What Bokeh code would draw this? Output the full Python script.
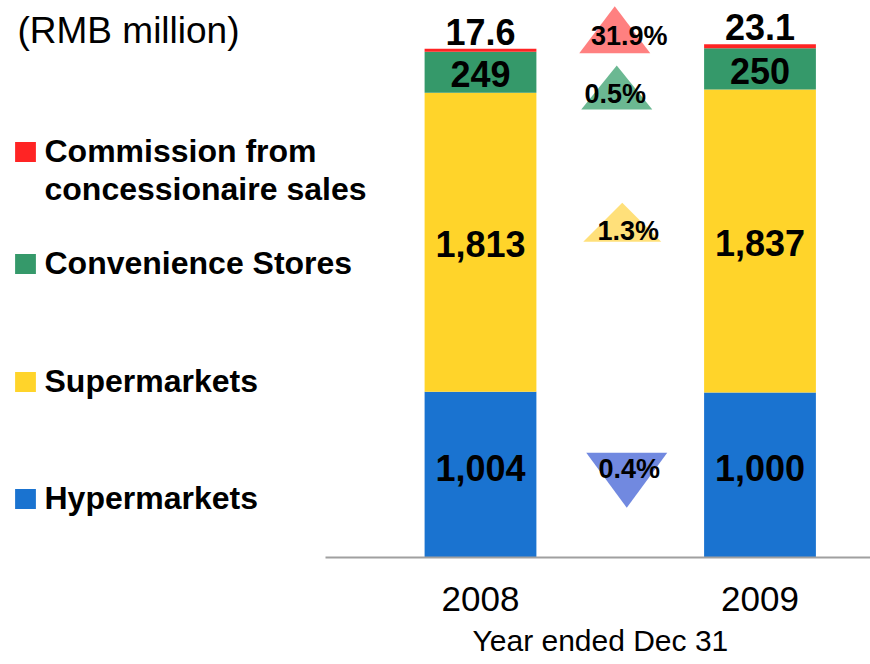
from bokeh.plotting import figure
from bokeh.models import Range1d, FixedTicker, Legend, LegendItem, Label, Title, ColumnDataSource
from bokeh.core.properties import value
from bokeh.embed import file_html
from bokeh.resources import INLINE

# ---------------- data ----------------
years = ["2008", "2009"]
hypermarkets = [1004, 1000]
supermarkets = [1813, 1837]
convenience = [249, 250]
commission = [17.6, 23.1]
segment_names = ["Hypermarkets", "Supermarkets", "Convenience Stores",
                 "Commission from\nconcessionaire sales"]
change_labels = ["0.4%", "1.3%", "0.5%", "31.9%"]
change_dirs = ["down", "up", "up", "up"]

# ---------------- style / layout ----------------
FONT = "Liberation Sans"
bar_colors = ["#1A73D0", "#FFD42A", "#35996A", "#FF2424"]
tri_colors = ["#7189E0", "#FFE07A", "#6BB892", "#FF8080"]
tri_w_px = [81, 78, 71, 71]
tri_h_px = [55, 39, 44, 47]
tri_dx_px = [6.5, 2, -3.5, -5.5]      # horizontal nudge from mid-gap
tri_dy_px = [5.5, -19.5, 17, -18.5]   # vertical nudge from segment middle (screen px, down +)
lab_dx_px = [2.5, 6, -1.5, 14.5]
lab_dy_px = [-11.5, 8.5, 7, 6.5]
legend_bottom_px = [517, 400, 282, 208]  # y (from top) of bottom edge of each legend box

W, H = 870, 664
FRAME_H = 557
PX_X = 279.5                         # pixels per year step
X_START = -480 / PX_X
X_END = X_START + W / PX_X
AXIS_LEFT = (325 - 480) / PX_X
Y_START, Y_END = 0, 3376
px_y = FRAME_H / (Y_END - Y_START)
BAR_W = 0.40

series = [hypermarkets, supermarkets, convenience, commission]
keys = ["hyper", "super", "conv", "comm"]
xs = list(range(len(years)))

src = ColumnDataSource(dict(x=xs, **{k: v for k, v in zip(keys, series)}))

p = figure(width=W, height=H, x_range=Range1d(X_START, X_END), y_range=Range1d(Y_START, Y_END),
           output_backend="svg", toolbar_location=None, min_border_left=0, min_border_right=0,
           min_border_top=0, min_border_bottom=H - FRAME_H, y_axis_location=None,
           outline_line_color=None)
p.xgrid.visible = False
p.ygrid.visible = False

renderers = p.vbar_stack(keys, x="x", width=BAR_W, color=bar_colors, line_color=None, source=src)

# x axis
ax = p.xaxis[0]
ax.bounds = (AXIS_LEFT, X_END)
ax.ticker = FixedTicker(ticks=xs)
ax.major_label_overrides = {i: y for i, y in zip(xs, years)}
ax.major_label_text_font = FONT
ax.major_label_text_font_size = "35px"
ax.major_label_text_color = "black"
ax.major_label_standoff = 23
ax.axis_line_color = "#A0A0A0"
ax.axis_line_width = 2
ax.major_tick_line_color = None
ax.minor_tick_line_color = None

# axis title, placed under the axis line (not centred on the whole canvas)
p.add_layout(Title(text="Year ended Dec 31", align="left", offset=472,
                   text_font=FONT, text_font_size="30px", text_font_style="normal",
                   text_color="black", standoff=16), "below")

# value labels on bars
lx, ly, lt, lb, loff = [], [], [], [], []
for j in xs:
    base = 0
    for i, s in enumerate(series):
        v = s[j]
        txt = f"{v:,}" if isinstance(v, int) else f"{v}"
        lx.append(j)
        lt.append(txt)
        if i == 3:
            ly.append(base + v); lb.append("bottom"); loff.append(-4)
        else:
            ly.append(base + v / 2); lb.append("middle"); loff.append(-7 if i == 0 else 2)
        base += v
vsrc = ColumnDataSource(dict(x=lx, y=ly, t=lt, b=lb, off=loff))
p.text(x="x", y="y", text="t", source=vsrc, text_baseline="b", y_offset="off",
       text_align="center", text_font=value(FONT), text_font_style="bold",
       text_font_size="36px", text_color="black")

# change indicators (triangles between bars)
mid_x = (xs[0] + xs[1]) / 2
txs, tys, cx_l, cy_l = [], [], [], []
for i, s in enumerate(series):
    mids = []
    for j in xs:
        base = sum(series[k][j] for k in range(i))
        mids.append(base + s[j] / 2)
    cy = sum(mids) / len(mids) - tri_dy_px[i] / px_y
    cx = mid_x + tri_dx_px[i] / PX_X
    hw = tri_w_px[i] / 2 / PX_X
    hh = tri_h_px[i] / 2 / px_y
    txs.append([cx - hw, cx + hw, cx])
    if change_dirs[i] == "up":
        tys.append([cy - hh, cy - hh, cy + hh])
    else:
        tys.append([cy + hh, cy + hh, cy - hh])
    cx_l.append(cx); cy_l.append(cy)
tsrc = ColumnDataSource(dict(xs=txs, ys=tys, c=tri_colors, x=cx_l, y=cy_l, t=change_labels,
                             dx=lab_dx_px, dy=lab_dy_px))
p.patches(xs="xs", ys="ys", fill_color="c", line_color=None, source=tsrc)
p.text(x="x", y="y", text="t", x_offset="dx", y_offset="dy", source=tsrc, text_align="center",
       text_baseline="middle", text_font=value(FONT), text_font_style="bold",
       text_font_size="27px", text_color="black")

# blank key used for the continuation line of a wrapped legend label
blank = p.vbar(x=[], top=[], width=BAR_W, fill_alpha=0, line_alpha=0)

# legends (one per item, in the left part of the plot area)
for i, r in enumerate(renderers):
    lines = segment_names[i].split("\n")
    items = [LegendItem(label=lines[0], renderers=[r])]
    items += [LegendItem(label=ln, renderers=[blank]) for ln in lines[1:]]
    leg = Legend(items=items, location=(11.5, FRAME_H - legend_bottom_px[i]),
                 orientation="vertical",
                 glyph_width=26, glyph_height=25, label_standoff=7, padding=0, margin=0,
                 spacing=1, border_line_color=None, background_fill_alpha=0,
                 label_text_font=FONT, label_text_font_style="bold",
                 label_text_font_size="32px", label_text_color="black", label_height=20)
    p.add_layout(leg, "center")

p.add_layout(Label(x=17, y=FRAME_H - 30, x_units="screen", y_units="screen",
                   text="(RMB million)", text_font=FONT, text_font_size="37px",
                   text_baseline="middle", text_color="black"))

open("out.html", "w").write(file_html(p, INLINE))
